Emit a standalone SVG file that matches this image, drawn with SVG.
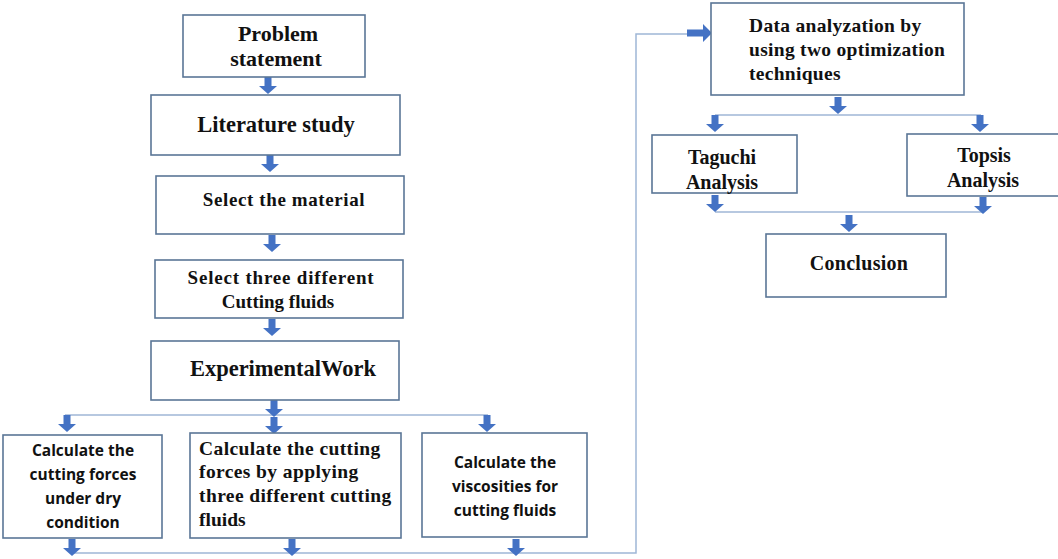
<svg xmlns="http://www.w3.org/2000/svg" width="1058" height="559" viewBox="0 0 1058 559">
<defs>
<style>
.box{fill:#fff;stroke:#5a7696;stroke-width:1.6}
.t{font-family:"Liberation Serif","Times New Roman",serif;font-weight:bold;fill:#111}
.s{font-family:"Open Sans","Liberation Sans",sans-serif;font-weight:bold;fill:#111}
.ln{fill:none;stroke:#9fb6d6;stroke-width:1.5}
.ar{fill:#4472c4}
</style>
<path id="ad" d="M-3.5,0 H3.5 V9 H9 L0,17 L-9,9 H-3.5 Z"/>
</defs>
<rect width="1058" height="559" fill="#fff"/>
<g id="connectors">
<path class="ln" d="M65,415 H488"/>
<path class="ln" d="M72,553 H636 V34 H690"/>
<path class="ln" d="M715,115 H981"/>
<path class="ln" d="M715,212 H983"/>
<g class="ar">
<use href="#ad" x="268" y="77"/>
<use href="#ad" x="270" y="155"/>
<use href="#ad" x="272" y="235"/>
<use href="#ad" x="272" y="319"/>
<use href="#ad" x="274" y="400"/>
<use href="#ad" x="67" y="415"/>
<use href="#ad" x="274" y="417"/>
<use href="#ad" x="487" y="415"/>
<use href="#ad" x="72" y="539"/>
<use href="#ad" x="292" y="539"/>
<use href="#ad" x="516" y="539"/>
<use href="#ad" x="838" y="97"/>
<use href="#ad" x="715" y="115"/>
<use href="#ad" x="980" y="115"/>
<use href="#ad" x="715" y="195"/>
<use href="#ad" x="983" y="197"/>
<use href="#ad" x="849" y="215"/>
<path d="M687,29.5 H703 V24 L712,33 L703,42 V36.5 H687 Z"/>
<path d="M396,190 L399,184 L402,190 Z"/>
</g>
</g>
<g id="problem"><rect class="box" x="183" y="15" width="182" height="62"/>
<text class="t" font-size="22" text-anchor="middle" x="278" y="41">Problem</text>
<text class="t" font-size="22" text-anchor="middle" x="276" y="66">statement</text></g>
<g id="literature"><rect class="box" x="151" y="95" width="249" height="60"/>
<text class="t" font-size="22.5" text-anchor="middle" x="276" y="132">Literature study</text></g>
<g id="material"><rect class="box" x="156" y="176" width="248" height="58"/>
<text class="t" font-size="19" letter-spacing="0.6" text-anchor="middle" x="284" y="206">Select the material</text></g>
<g id="fluids"><rect class="box" x="155" y="260" width="248" height="58"/>
<text class="t" font-size="19" letter-spacing="0.8" text-anchor="middle" x="281" y="284">Select three different</text>
<text class="t" font-size="19" text-anchor="middle" x="278" y="308">Cutting fluids</text></g>
<g id="experimental"><rect class="box" x="151" y="341" width="248" height="59"/>
<text class="t" font-size="22.5" text-anchor="middle" x="283" y="376">ExperimentalWork</text></g>
<g id="dry"><rect class="box" x="3" y="435" width="159" height="103"/>
<text class="s" font-size="15.5" text-anchor="middle" x="83" y="456">Calculate the</text>
<text class="s" font-size="15.5" text-anchor="middle" x="83" y="480">cutting forces</text>
<text class="s" font-size="15.5" text-anchor="middle" x="83" y="504">under dry</text>
<text class="s" font-size="15.5" text-anchor="middle" x="83" y="528">condition</text></g>
<g id="applying"><rect class="box" x="190" y="433" width="211" height="105"/>
<text class="t" font-size="19.5" letter-spacing="0.4" x="199" y="455">Calculate the cutting</text>
<text class="t" font-size="19.5" letter-spacing="0.4" x="199" y="478">forces by applying</text>
<text class="t" font-size="19.5" letter-spacing="0.4" x="199" y="502">three different cutting</text>
<text class="t" font-size="19.5" x="199" y="526">fluids</text></g>
<g id="viscosity"><rect class="box" x="422" y="433" width="165" height="104"/>
<text class="s" font-size="15.5" text-anchor="middle" x="505" y="468">Calculate the</text>
<text class="s" font-size="15.5" text-anchor="middle" x="505" y="492">viscosities for</text>
<text class="s" font-size="15.5" text-anchor="middle" x="505" y="516">cutting fluids</text></g>
<g id="data"><rect class="box" x="711" y="3" width="253" height="92"/>
<text class="t" font-size="19.5" letter-spacing="0.3" x="749" y="32">Data analyzation  by</text>
<text class="t" font-size="19.5" letter-spacing="0.3" x="749" y="56">using two optimization</text>
<text class="t" font-size="19.5" letter-spacing="0.3" x="749" y="80">techniques</text></g>
<g id="taguchi"><rect class="box" x="652" y="135" width="145" height="58"/>
<text class="t" font-size="20" text-anchor="middle" x="722" y="164">Taguchi</text>
<text class="t" font-size="20" text-anchor="middle" x="722" y="189">Analysis</text></g>
<g id="topsis"><rect class="box" x="907" y="134" width="153" height="62"/>
<text class="t" font-size="20" text-anchor="middle" x="984" y="162">Topsis</text>
<text class="t" font-size="20" text-anchor="middle" x="983" y="187">Analysis</text></g>
<g id="conclusion"><rect class="box" x="766" y="234" width="180" height="63"/>
<text class="t" font-size="20" letter-spacing="0.3" text-anchor="middle" x="859" y="270">Conclusion</text></g>
</svg>
